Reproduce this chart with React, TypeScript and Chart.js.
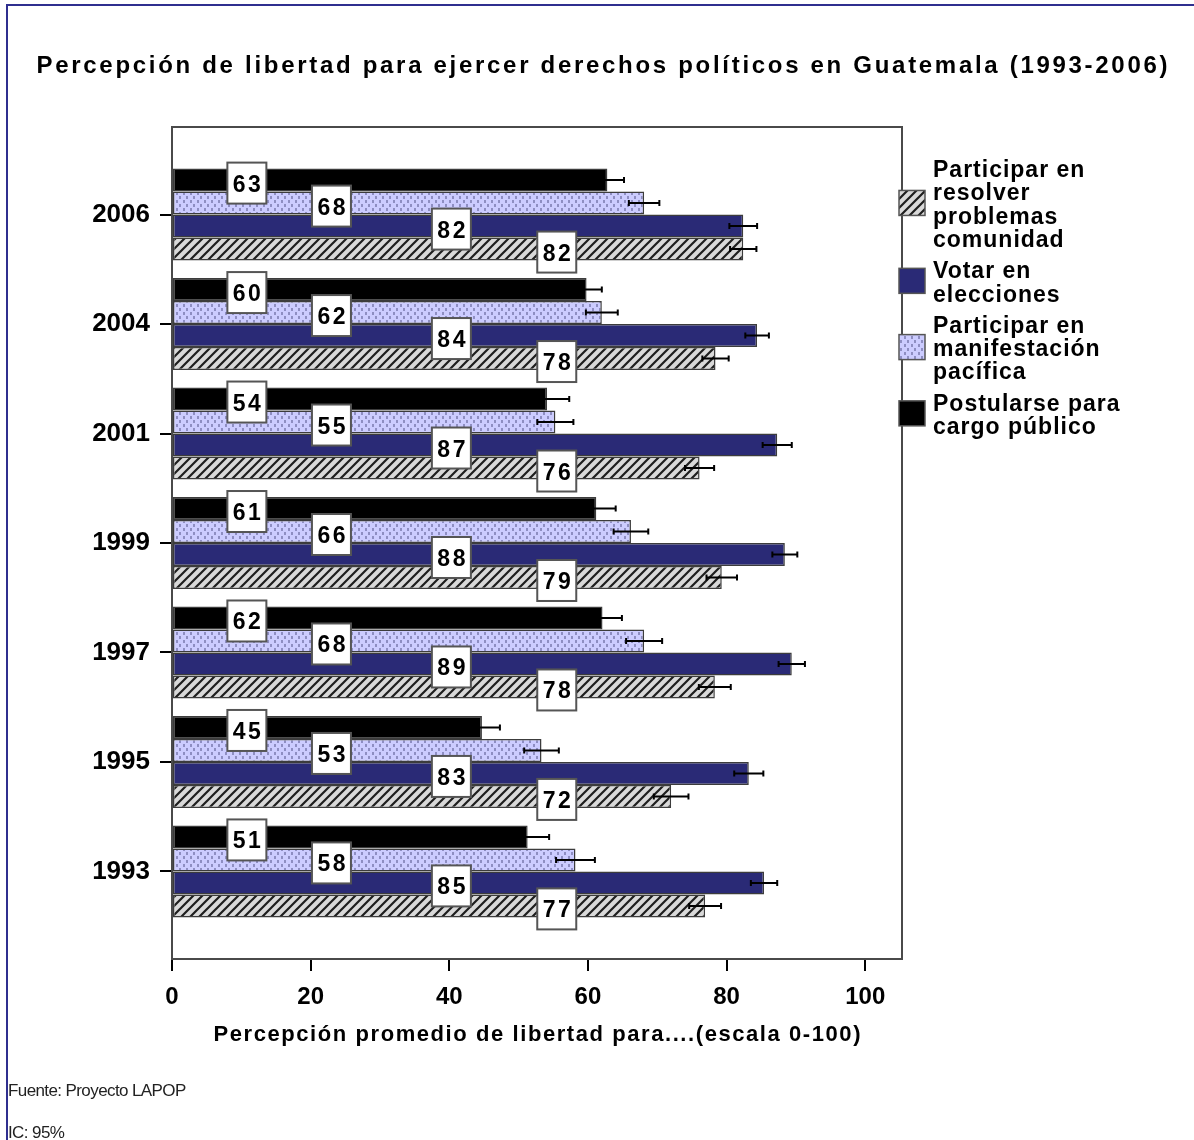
import React, { useEffect, useRef } from 'react';
import { Chart, registerables } from 'chart.js';
Chart.register(...registerables);

// ---------- data ----------
const years = ['2006', '2004', '2001', '1999', '1997', '1995', '1993'];
const seriesNames = [
  'Postularse para cargo público',
  'Participar en manifestación pacífica',
  'Votar en elecciones',
  'Participar en resolver problemas comunidad',
];
const postularse = [62.8, 59.8, 54.1, 61.2, 62.1, 44.7, 51.3];
const manifestacion = [68.1, 62.0, 55.3, 66.2, 68.1, 53.3, 58.2];
const votar = [82.4, 84.4, 87.3, 88.4, 89.4, 83.2, 85.4];
const resolver = [82.4, 78.4, 76.1, 79.3, 78.3, 72.0, 76.9];
// 95% CI half widths
const postularseCI = [2.4, 2.2, 3.2, 2.8, 2.8, 2.6, 3.1];
const manifestacionCI = [2.2, 2.3, 2.6, 2.5, 2.6, 2.5, 2.8];
const votarCI = [2.0, 1.7, 2.1, 1.8, 1.9, 2.1, 1.9];
const resolverCI = [1.9, 1.9, 2.1, 2.2, 2.3, 2.5, 2.3];
const xTicks = [0, 20, 40, 60, 80, 100];
const legendLines = [
  ['Participar en', 'resolver', 'problemas', 'comunidad'],
  ['Votar en', 'elecciones'],
  ['Participar en', 'manifestación', 'pacífica'],
  ['Postularse para', 'cargo público'],
];
const legendSeries = [3, 2, 1, 0];
const titleText = 'Percepción de libertad para ejercer derechos políticos en Guatemala (1993-2006)';
const xTitleText = 'Percepción promedio de libertad para....(escala 0-100)';
const footerLines = ['Fuente: Proyecto LAPOP', 'IC: 95%'];

// ---------- style ----------
const FONT = "'Liberation Sans', Arial, Helvetica, sans-serif";
const labelAnchor = [10.8, 23, 40.3, 55.5]; // value-axis position of the value boxes per series

function makeHatch(ctx: CanvasRenderingContext2D) {
  const c = document.createElement('canvas');
  const s = 9;
  c.width = s; c.height = s;
  const g = c.getContext('2d')!;
  g.fillStyle = '#d9d9d9';
  g.fillRect(0, 0, s, s);
  g.strokeStyle = '#1e1e1e';
  g.lineWidth = 2.2;
  g.beginPath();
  g.moveTo(0, s); g.lineTo(s, 0);
  g.moveTo(-s / 2, s / 2); g.lineTo(s / 2, -s / 2);
  g.moveTo(s / 2, s * 1.5); g.lineTo(s * 1.5, s / 2);
  g.stroke();
  return ctx.createPattern(c, 'repeat')!;
}

function makeDots(ctx: CanvasRenderingContext2D) {
  const c = document.createElement('canvas');
  c.width = 7; c.height = 8;
  const g = c.getContext('2d')!;
  g.fillStyle = '#ccccff';
  g.fillRect(0, 0, 7, 8);
  g.fillStyle = '#8e8ec2';
  g.fillRect(1, 0, 2, 3);
  g.fillRect(4, 4, 2, 3);
  return ctx.createPattern(c, 'repeat')!;
}

function drawFitted(ctx: CanvasRenderingContext2D, text: string, cx: number, y: number, width: number, font: string) {
  ctx.save();
  ctx.font = font;
  (ctx as any).letterSpacing = '0px';
  const w0 = ctx.measureText(text).width;
  const n = Array.from(text).length;
  const ls = (width - w0) / Math.max(1, n - 1);
  (ctx as any).letterSpacing = ls + 'px';
  ctx.textAlign = 'left';
  ctx.textBaseline = 'alphabetic';
  ctx.fillStyle = '#000';
  ctx.fillText(text, cx - width / 2, y);
  ctx.restore();
}

export default function App() {
  const ref = useRef<HTMLCanvasElement>(null);

  useEffect(() => {
    const canvas = ref.current!;
    const ctx = canvas.getContext('2d')!;
    const hatch = makeHatch(ctx);
    const dots = makeDots(ctx);
    const fills: any[] = ['#000000', dots, '#2a2a76', hatch];
    const values = [postularse, manifestacion, votar, resolver];
    const cis = [postularseCI, manifestacionCI, votarCI, resolverCI];

    const decor = {
      id: 'decor',
      beforeDraw(chart: any) {
        const c = chart.ctx as CanvasRenderingContext2D;
        c.save();
        c.fillStyle = '#ffffff';
        c.fillRect(0, 0, chart.width, chart.height);
        c.strokeStyle = '#2f2f8f';
        c.lineWidth = 2;
        c.beginPath();
        c.moveTo(7, chart.height); c.lineTo(7, 5); c.lineTo(chart.width, 5);
        c.stroke();
        c.restore();
        drawFitted(c, titleText, 602, 73, 1131, `bold 24px ${FONT}`);
      },
      afterDatasetsDraw(chart: any) {
        const c = chart.ctx as CanvasRenderingContext2D;
        const a = chart.chartArea;
        const xs = chart.scales.x;
        c.save();
        // frame
        c.strokeStyle = '#4a4a4a';
        c.lineWidth = 2;
        c.strokeRect(a.left, a.top, a.right - a.left, a.bottom - a.top);
        // error bars
        c.strokeStyle = '#000';
        c.lineWidth = 2;
        values.forEach((vals, i) => {
          const meta = chart.getDatasetMeta(i);
          meta.data.forEach((el: any, j: number) => {
            const lo = xs.getPixelForValue(vals[j] - cis[i][j]);
            const hi = xs.getPixelForValue(vals[j] + cis[i][j]);
            const y = el.y;
            c.beginPath();
            c.moveTo(lo, y); c.lineTo(hi, y);
            c.moveTo(lo, y - 3); c.lineTo(lo, y + 3);
            c.moveTo(hi, y - 3); c.lineTo(hi, y + 3);
            c.stroke();
          });
        });
        // value boxes
        values.forEach((vals, i) => {
          const meta = chart.getDatasetMeta(i);
          meta.data.forEach((el: any, j: number) => {
            const cx = xs.getPixelForValue(labelAnchor[i]);
            const cy = el.y + 3;
            const w = 39, h = 41;
            c.fillStyle = '#ffffff';
            c.fillRect(cx - w / 2, cy - h / 2, w, h);
            c.strokeStyle = '#555';
            c.lineWidth = 2;
            c.strokeRect(cx - w / 2, cy - h / 2, w, h);
            c.fillStyle = '#000';
            c.font = `bold 23px ${FONT}`;
            (c as any).letterSpacing = '2.5px';
            c.textAlign = 'center';
            c.textBaseline = 'alphabetic';
            c.fillText(String(Math.round(vals[j])), cx + 1.25, cy + 8.5);
            (c as any).letterSpacing = '0px';
          });
        });
        c.restore();
      },
      afterDraw(chart: any) {
        const c = chart.ctx as CanvasRenderingContext2D;
        const a = chart.chartArea;
        // x-axis title
        drawFitted(c, xTitleText, (a.left + a.right) / 2, 1041, 647, `bold 22px ${FONT}`);
        // legend
        c.save();
        const lh = 23.3;
        let base = a.top + 50;
        legendSeries.forEach((si, k) => {
          const lines = legendLines[k];
          const first = base;
          const last = base + lh * (lines.length - 1);
          const mid = (first - 16 + last) / 2 - 1;
          const sx = a.right - 3;
          c.fillStyle = fills[si];
          c.fillRect(sx, mid - 12.5, 26, 25);
          c.strokeStyle = '#555';
          c.lineWidth = 1.5;
          c.strokeRect(sx, mid - 12.5, 26, 25);
          c.fillStyle = '#000';
          c.font = `bold 23px ${FONT}`;
          (c as any).letterSpacing = '1px';
          c.textAlign = 'left';
          c.textBaseline = 'alphabetic';
          lines.forEach((t, li) => c.fillText(t, a.right + 31, first + li * lh));
          (c as any).letterSpacing = '0px';
          base = last + lh + 8;
        });
        // footer
        c.font = `17px ${FONT}`;
        (c as any).letterSpacing = '-0.6px';
        c.fillStyle = '#222';
        c.fillText(footerLines[0], 8, 1096);
        c.fillText(footerLines[1], 8, 1138);
        c.restore();
      },
    };

    const chart = new Chart(canvas, {
      type: 'bar',
      data: {
        datasets: values.map((vals, i) => ({
          label: seriesNames[i],
          data: vals.map((v, j) => ({ x: v, y: j })),
          backgroundColor: fills[i],
          borderColor: '#3c3c3c',
          borderWidth: 1.5,
          borderSkipped: false,
          categoryPercentage: 0.84,
          barPercentage: 1,
        })),
      },
      options: {
        indexAxis: 'y',
        responsive: false,
        animation: false,
        events: [],
        layout: { padding: { top: 127, right: 292, bottom: 0, left: 0 } },
        plugins: { legend: { display: false }, tooltip: { enabled: false }, title: { display: false } },
        scales: {
          x: {
            type: 'linear',
            min: 0,
            max: 105.3,
            offset: false,
            afterBuildTicks: (s: any) => { s.ticks = xTicks.map((v) => ({ value: v })); },
            afterFit: (s: any) => { s.height = 181; },
            ticks: { color: '#000', font: { family: FONT, size: 24, weight: 'bold' }, padding: 12, autoSkip: false, maxRotation: 0 },
            grid: { drawOnChartArea: false, tickLength: 12, color: '#000', lineWidth: 2, offset: false },
            border: { display: true, color: '#4a4a4a', width: 2 },
          },
          y: {
            type: 'linear',
            reverse: true,
            min: -0.8,
            max: 6.8,
            offset: false,
            afterBuildTicks: (s: any) => { s.ticks = years.map((_, i) => ({ value: i })); },
            afterFit: (s: any) => { s.width = 172; },
            ticks: {
              color: '#000',
              font: { family: FONT, size: 26, weight: 'bold' },
              padding: 10,
              autoSkip: false,
              callback: (v: any) => years[Math.round(Number(v))] ?? '',
            },
            grid: { drawOnChartArea: false, tickLength: 12, color: '#000', lineWidth: 2, offset: false },
            border: { display: true, color: '#4a4a4a', width: 2 },
          },
        },
      } as any,
      plugins: [decor],
    });
    return () => chart.destroy();
  }, []);

  return (
    <div style={{ position: 'absolute', left: 0, top: 0, width: 1194, height: 1140, background: '#fff' }}>
      <canvas ref={ref} width={1194} height={1140} style={{ display: 'block', width: 1194, height: 1140 }} />
    </div>
  );
}
